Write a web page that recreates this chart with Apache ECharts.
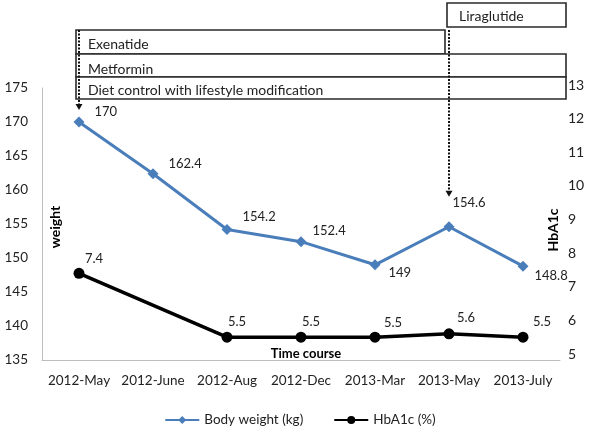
<!DOCTYPE html>
<html><head><meta charset="utf-8">
<script src="https://cdn.jsdelivr.net/npm/echarts@6/dist/echarts.min.js"></script>
<style>html,body{margin:0;padding:0;background:#fff}#c{width:600px;height:428px}</style>
</head><body><div id="c"></div>
<script>
var categories = ['2012-May','2012-June','2012-Aug','2012-Dec','2013-Mar','2013-May','2013-July'];
var weight = [170, 162.4, 154.2, 152.4, 149, 154.6, 148.8];
var hba1c = [7.4, null, 5.5, 5.5, 5.5, 5.6, 5.5];
var weightTicks = {min:135, max:175, interval:5};
var hbaTicks = {min:5, max:13, interval:1};

var FONT = 'Lato';
var wLabelStyle = [
  {position:'right', distance:10, offset:[0,-10]},
  {position:'right', distance:10, offset:[0,-10]},
  {position:'right', distance:10, offset:[0,-13]},
  {position:'right', distance:6, offset:[0,-11]},
  {position:'right', distance:8, offset:[0,8]},
  {position:'top', distance:12, offset:[20,0]},
  {position:'right', distance:6, offset:[0,10]}
];
var hLabelStyle = [
  {position:'top', distance:2, offset:[15,0]},
  {position:'top', distance:2, offset:[0,0]},
  {position:'top', distance:3, offset:[10,0]},
  {position:'top', distance:3, offset:[10,0]},
  {position:'top', distance:2, offset:[18,0]},
  {position:'top', distance:4, offset:[17,0]},
  {position:'top', distance:3, offset:[19,0]}
];

var chart = echarts.init(document.getElementById('c'));
var lblBase = {show:true, color:'#222', fontSize:13, fontFamily:FONT};

function boxGroup(x, y, w, h, text, ty) {
  return [
    {type:'rect', shape:{x:x, y:y, width:w, height:h}, style:{fill:'#fff', stroke:'#2a2a2a', lineWidth:1.6}, z:10},
    {type:'text', x:x+12, y:ty, style:{text:text, fill:'#222', font:'14px '+FONT, textVerticalAlign:'middle'}, z:11}
  ];
}

var graphics = [].concat(
  boxGroup(447, 3, 119, 24, 'Liraglutide', 16),
  boxGroup(76, 30, 369, 24, 'Exenatide', 44),
  boxGroup(76, 54, 490, 23, 'Metformin', 69),
  boxGroup(76, 77, 490, 22, 'Diet control with lifestyle modification', 90)
);

chart.setOption({
  animation:false,
  textStyle:{fontFamily:FONT},
  grid:[
    {left:42, right:40, top:88, bottom:68},
    {left:42, right:40, top:85, bottom:74}
  ],
  legend:{
    top:408, left:'center', itemGap:30, itemWidth:34, itemHeight:10,
    textStyle:{fontSize:13.5, color:'#222', fontFamily:FONT},
    data:['Body weight (kg)','HbA1c (%)']
  },
  xAxis:[
    {type:'category', data:categories, gridIndex:0, boundaryGap:true,
     axisLine:{show:true, lineStyle:{color:'#bdbdbd', width:1}}, axisTick:{show:false},
     axisLabel:{color:'#222', fontSize:13.5, margin:14, fontFamily:FONT, interval:0}},
    {type:'category', data:categories, gridIndex:1, boundaryGap:true, show:false}
  ],
  yAxis:[
    {type:'value', gridIndex:0, min:weightTicks.min, max:weightTicks.max, interval:weightTicks.interval,
     splitLine:{show:false}, axisLine:{show:true, lineStyle:{color:'#bdbdbd'}}, axisTick:{show:false},
     axisLabel:{color:'#222', fontSize:13.5, margin:14, fontFamily:FONT}},
    {type:'value', gridIndex:1, position:'right', min:hbaTicks.min, max:hbaTicks.max, interval:hbaTicks.interval,
     splitLine:{show:false}, axisLine:{show:false}, axisTick:{show:false},
     axisLabel:{color:'#222', fontSize:14, margin:8, fontFamily:FONT}}
  ],
  series:[
    {name:'Body weight (kg)', type:'line', xAxisIndex:0, yAxisIndex:0,
     symbol:'diamond', symbolSize:11, lineStyle:{color:'#4a7ebb', width:3}, itemStyle:{color:'#4a7ebb'},
     data: weight.map(function(v,i){ return {value:v, label:Object.assign({}, lblBase, wLabelStyle[i])}; }),
     z:3},
    {name:'HbA1c (%)', type:'line', xAxisIndex:1, yAxisIndex:1, connectNulls:true,
     symbol:'circle', symbolSize:11, lineStyle:{color:'#000', width:3.5}, itemStyle:{color:'#000'},
     data: hba1c.map(function(v,i){ return {value:v, label:Object.assign({}, lblBase, hLabelStyle[i])}; }),
     z:2}
  ],
  graphic: graphics
});

var p0 = chart.convertToPixel({xAxisIndex:0, yAxisIndex:0}, [0, weight[0]]);
var p5 = chart.convertToPixel({xAxisIndex:0, yAxisIndex:0}, [5, weight[5]]);
function arrow(x, y1, y2) {
  return [
    {type:'line', shape:{x1:x, y1:y1, x2:x, y2:y2-5}, style:{stroke:'#111', lineWidth:2, lineDash:[2,1.5]}, z:12},
    {type:'polygon', shape:{points:[[x-3.5,y2-6],[x+3.5,y2-6],[x,y2]]}, style:{fill:'#111'}, z:12}
  ];
}
var extra = [].concat(
  arrow(p0[0], 30, p0[1]-12),
  arrow(p5[0], 30, p5[1]-30),
  [
    {type:'text', x:55, y:227, rotation:Math.PI/2, style:{text:'weight', fill:'#000', font:'bold 14px '+FONT, textAlign:'center', textVerticalAlign:'middle'}, z:12},
    {type:'text', x:553, y:230, rotation:Math.PI/2, style:{text:'HbA1c', fill:'#000', font:'bold 14px '+FONT, textAlign:'center', textVerticalAlign:'middle'}, z:12},
    {type:'text', x:306, y:354, style:{text:'Time course', fill:'#000', font:'bold 13px '+FONT, textAlign:'center', textVerticalAlign:'middle'}, z:12}
  ]
);
chart.setOption({graphic: graphics.concat(extra)});
</script></body></html>
